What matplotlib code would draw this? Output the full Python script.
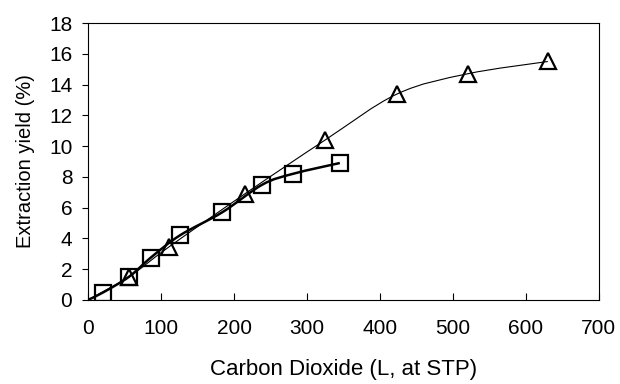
import matplotlib
matplotlib.use('Agg')
import matplotlib.pyplot as plt
from matplotlib.path import Path
from matplotlib.patches import PathPatch

plt.rcParams['font.family'] = ['Liberation Sans', 'DejaVu Sans']

# data
sq_x = [20, 56, 86, 126, 184, 239, 281, 345]
sq_y = [0.47, 1.5, 2.75, 4.2, 5.7, 7.5, 8.2, 8.9]
tri_x = [56, 111, 215, 325, 424, 520, 630]
tri_y = [1.5, 3.45, 6.9, 10.4, 13.4, 14.7, 15.5]
x_ticks = [0, 100, 200, 300, 400, 500, 600, 700]
y_ticks = [0, 2, 4, 6, 8, 10, 12, 14, 16, 18]


def smooth_path(xs, ys, k=1 / 6.0):
    """Excel-like smoothed line as a cubic bezier path (Catmull-Rom)."""
    pts = list(zip(xs, ys))
    verts = [pts[0]]
    codes = [Path.MOVETO]
    n = len(pts)
    for i in range(n - 1):
        p0 = pts[i - 1] if i > 0 else pts[i]
        p1 = pts[i]
        p2 = pts[i + 1]
        p3 = pts[i + 2] if i + 2 < n else pts[i + 1]
        c1 = (p1[0] + (p2[0] - p0[0]) * k, p1[1] + (p2[1] - p0[1]) * k)
        c2 = (p2[0] - (p3[0] - p1[0]) * k, p2[1] - (p3[1] - p1[1]) * k)
        verts += [c1, c2, p2]
        codes += [Path.CURVE4] * 3
    return Path(verts, codes)


fig = plt.figure(figsize=(6.2, 3.84), dpi=100)
ax = fig.add_axes([0.142, 0.219, 0.824, 0.721])

# fitted curves start at the origin
ax.add_patch(PathPatch(smooth_path([0] + tri_x, [0] + tri_y), fill=False,
                       edgecolor='black', lw=0.8))
ax.add_patch(PathPatch(smooth_path([0] + sq_x, [0] + sq_y), fill=False,
                       edgecolor='black', lw=1.8))

ax.plot(sq_x, sq_y, 's', ms=11, mfc='none', mec='black', mew=1.6)
ax.plot(tri_x, tri_y, '^', ms=12, mfc='none', mec='black', mew=1.6)

ax.set_xlim(0, 700)
ax.set_ylim(0, 18)
ax.set_xticks(x_ticks)
ax.set_yticks(y_ticks)
ax.tick_params(axis='x', direction='in', length=5, labelsize=15, pad=14)
ax.tick_params(axis='y', direction='out', length=4.3, labelsize=15, pad=7)
for s in ax.spines.values():
    s.set_linewidth(0.8)

ax.set_xlabel('Carbon Dioxide (L, at STP)', fontsize=16, labelpad=15)
ax.set_ylabel('Extraction yield (%)', fontsize=14.5, labelpad=10)

fig.savefig('out.png', dpi=100)
